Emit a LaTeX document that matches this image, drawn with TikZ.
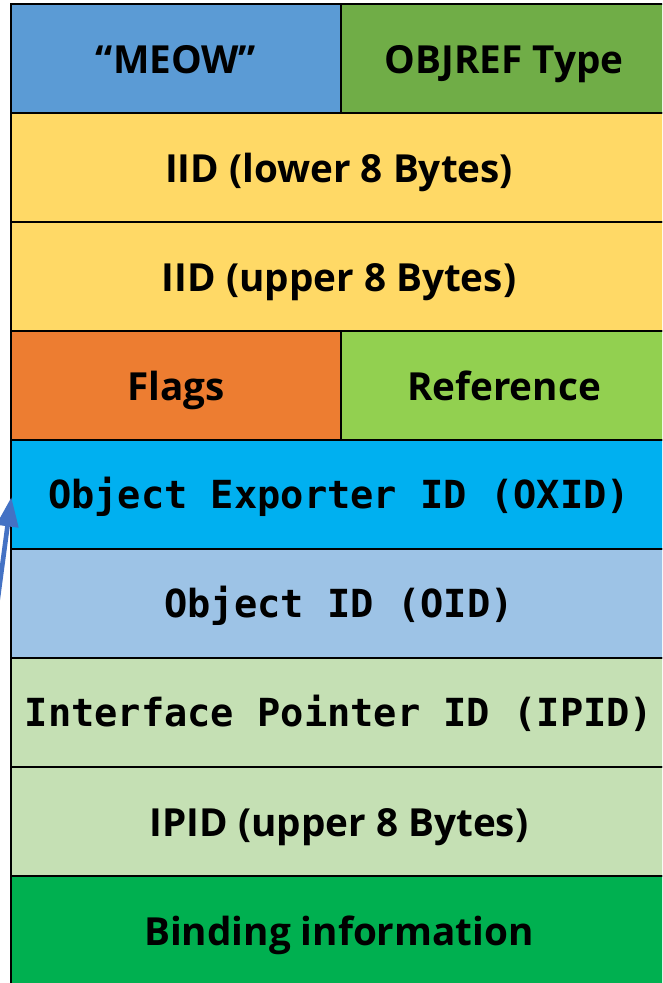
\documentclass[tikz,border=0pt]{standalone}
\usepackage{fontspec}
\setmainfont{Open Sans}
\setmonofont{DejaVu Sans Mono}
\usetikzlibrary{arrows.meta}
\definecolor{cMeow}{HTML}{5B9BD5}
\definecolor{cObjref}{HTML}{70AD47}
\definecolor{cIID}{HTML}{FFD966}
\definecolor{cFlags}{HTML}{ED7D31}
\definecolor{cRef}{HTML}{92D050}
\definecolor{cOxid}{HTML}{00B0F0}
\definecolor{cOid}{HTML}{9DC3E6}
\definecolor{cIpid}{HTML}{C5E0B4}
\definecolor{cBind}{HTML}{00B050}
\definecolor{cArrow}{HTML}{4472C4}
\tikzset{
  cell/.style={draw=black, line width=1.5pt, inner sep=0pt, minimum height=81.75pt,
    font=\fontsize{29}{32}\selectfont\bfseries, text=black,
    text height=22pt, text depth=0pt},
  full/.style={cell, minimum width=492pt},
  lefthalf/.style={cell, minimum width=247.5pt},
  righthalf/.style={cell, minimum width=244.5pt},
  monotext/.style={font=\fontsize{29}{32}\selectfont\ttfamily\bfseries,
    text height=21pt, text depth=0pt},
  pointer/.style={draw=cArrow, line width=3.5pt, -{Triangle[length=22pt,width=16pt]}}
}
\begin{document}
\begin{tikzpicture}[x=0.75pt,y=-0.75pt]
\clip (0,0) rectangle (662,983);
\fill[white] (0,0) rectangle (662,983);
\node[lefthalf, fill=cMeow] (meow) at (176,58.5) {“MEOW”};
\node[righthalf, fill=cObjref] (objref) at (504,58.5) {OBJREF Type};
\node[full, fill=cIID] (iidlo) at (339,167.5) {IID (lower 8 Bytes)};
\node[full, fill=cIID] (iidhi) at (339,276.5) {IID (upper 8 Bytes)};
\node[lefthalf, fill=cFlags] (flags) at (176,385.5) {Flags};
\node[righthalf, fill=cRef] (ref) at (504,385.5) {Reference};
\node[full, fill=cOxid, monotext] (oxid) at (339,494.5) {Object Exporter ID (OXID)};
\node[full, fill=cOid, monotext] (oid) at (339,603.5) {Object ID (OID)};
\node[full, fill=cIpid, monotext] (ipid) at (339,712.5) {Interface Pointer ID (IPID)};
\node[full, fill=cIpid] (ipidhi) at (339,821.5) {IPID (upper 8 Bytes)};
\node[full, fill=cBind] (bind) at (339,930.5) {Binding information};
\coordinate (arrS) at (-3,605);
\draw[pointer] (arrS) -- ([xshift=1pt,yshift=-2pt]oxid.west);
\end{tikzpicture}
\end{document}
